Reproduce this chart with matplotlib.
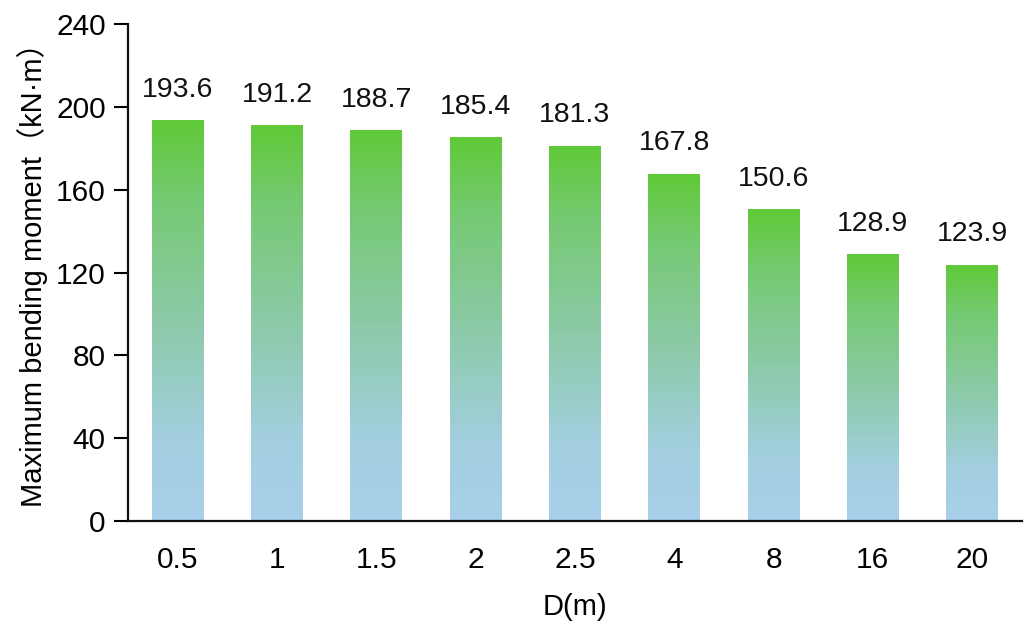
import matplotlib
matplotlib.use("Agg")
import matplotlib.pyplot as plt
import numpy as np
from matplotlib.colors import LinearSegmentedColormap

plt.rcParams['font.family'] = ['Liberation Sans', 'Noto Sans CJK SC', 'DejaVu Sans']

categories = ['0.5', '1', '1.5', '2', '2.5', '4', '8', '16', '20']
values = [193.6, 191.2, 188.7, 185.4, 181.3, 167.8, 150.6, 128.9, 123.9]
yticks = [0, 40, 80, 120, 160, 200, 240]

fig = plt.figure(figsize=(10.29, 6.21), dpi=100)
ax = fig.add_axes([0.1244, 0.161, 0.8686, 0.8])

# vertical gradient: light blue at the base, green at the top
cmap = LinearSegmentedColormap.from_list(
    'bluegreen', [(0.0, '#a9d0ea'), (0.2, '#a3cfe0'), (0.5, '#8ccaa8'), (0.8, '#76c973'), (1.0, '#5fca37')])
grad = np.linspace(0, 1, 256).reshape(-1, 1)

x = np.arange(len(categories))
width = 0.52
bars = ax.bar(x, values, width=width, color='none', edgecolor='none')
for bar, v in zip(bars, values):
    x0 = bar.get_x()
    im = ax.imshow(grad, cmap=cmap, origin='lower', aspect='auto',
                   extent=(x0, x0 + bar.get_width(), 0, v), zorder=2)
    im.set_clip_path(bar)
    ax.text(bar.get_x() + bar.get_width() / 2, v + 8.5, f'{v:.1f}',
            ha='center', va='bottom', fontsize=20.5, color='#111111')

ax.set_xlim(-0.5, len(categories) - 0.5)
ax.set_ylim(0, 240)
ax.set_xticks(x)
ax.set_xticklabels(categories)
ax.set_yticks(yticks)
ax.tick_params(axis='x', length=0, pad=18, labelsize=21.5)
ax.tick_params(axis='y', direction='out', length=10, width=1.5, pad=6, labelsize=21.5)

for side in ['top', 'right']:
    ax.spines[side].set_visible(False)
for side in ['left', 'bottom']:
    ax.spines[side].set_linewidth(1.6)
    ax.spines[side].set_color('#111111')

ax.set_xlabel('D(m)', fontsize=21, labelpad=14)
ax.set_ylabel('Maximum bending moment（kN·m）', fontsize=21, labelpad=6)
ax.yaxis.set_label_coords(-0.09, 0.51)

fig.savefig('out.png', dpi=100, facecolor='white')
